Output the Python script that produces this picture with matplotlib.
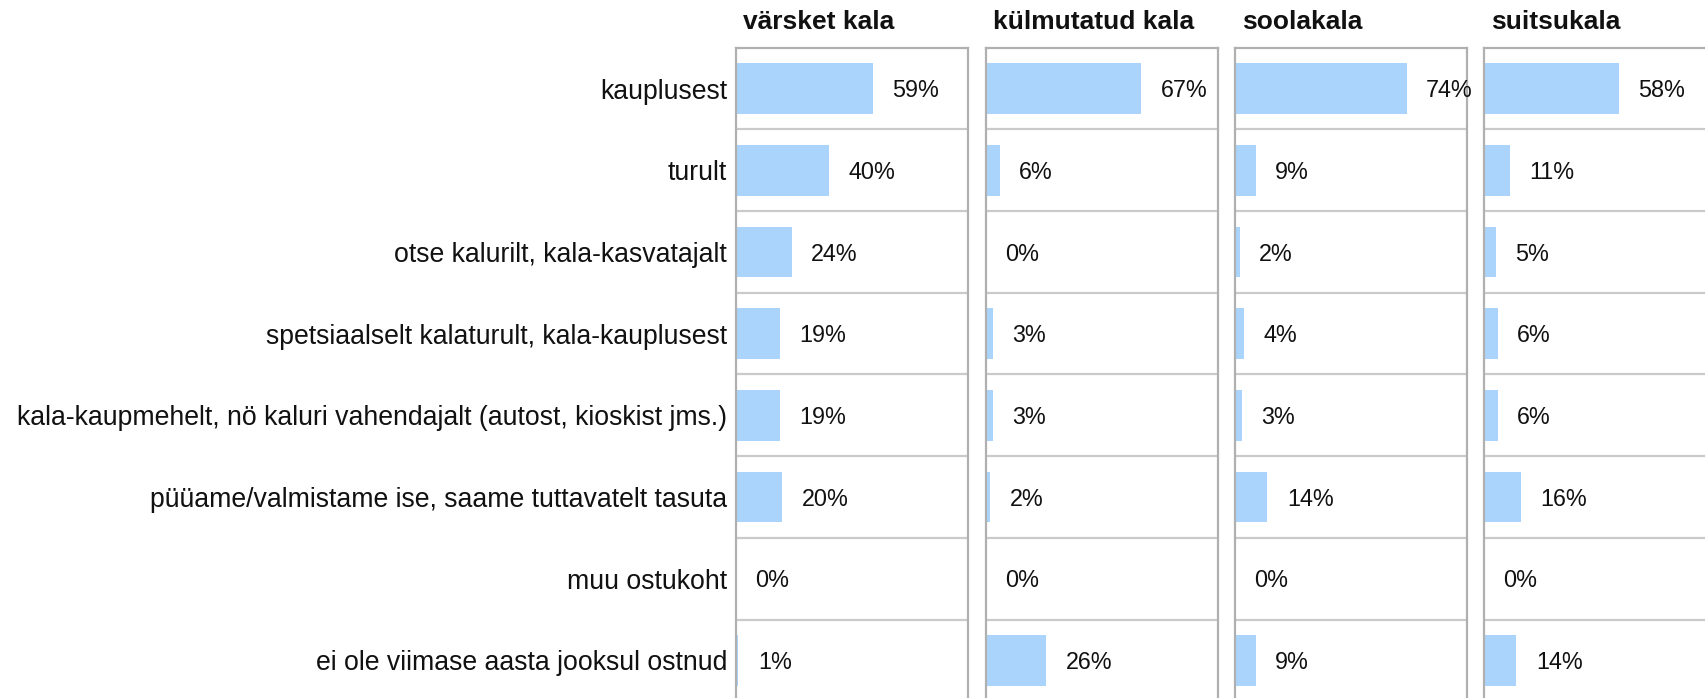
import matplotlib
matplotlib.use("Agg")
import matplotlib.pyplot as plt

categories = [
    "kauplusest",
    "turult",
    "otse kalurilt, kala-kasvatajalt",
    "spetsiaalselt kalaturult, kala-kauplusest",
    "kala-kaupmehelt, nö kaluri vahendajalt (autost, kioskist jms.)",
    "püüame/valmistame ise, saame tuttavatelt tasuta",
    "muu ostukoht",
    "ei ole viimase aasta jooksul ostnud",
]
panel_titles = ["värsket kala", "külmutatud kala", "soolakala", "suitsukala"]
varsket = [59, 40, 24, 19, 19, 20, 0, 1]
kylmutatud = [67, 6, 0, 3, 3, 2, 0, 26]
soolakala = [74, 9, 2, 4, 3, 14, 0, 9]
suitsukala = [58, 11, 5, 6, 6, 16, 0, 14]
series = [varsket, kylmutatud, soolakala, suitsukala]

plt.rcParams['font.family'] = ['Liberation Sans', 'DejaVu Sans']

W, H = 1706, 698
fig = plt.figure(figsize=(W / 100, H / 100), dpi=100)

bar_color = '#aad4fc'
spine_color = '#b0b0b0'
grid_color = '#cacaca'

panel_left = [736, 985.7, 1235, 1484]
panel_w = 232
top_px = 47.7
bottom_px = 701.2

n = len(categories)
for i, (title, vals) in enumerate(zip(panel_titles, series)):
    l = panel_left[i] / W
    b = (H - bottom_px) / H
    ax = fig.add_axes([l, b, panel_w / W, (bottom_px - top_px) / H])
    y = list(range(n))
    ax.barh(y, vals, height=0.62, color=bar_color, zorder=2)
    ax.set_xlim(0, 100)
    ax.set_ylim(n - 0.5, -0.5)
    for k in range(1, n):
        ax.axhline(k - 0.5, color=grid_color, lw=1.6, zorder=1)
    for yy, v in zip(y, vals):
        ax.annotate(f"{v}%", xy=(v, yy), xytext=(14, -1.6), textcoords='offset points',
                    va='center', ha='left', fontsize=16.8, color='#111111',
                    annotation_clip=False, zorder=3)
    ax.set_xticks([])
    if i == 0:
        ax.set_yticks(y)
        ax.set_yticklabels(categories, fontsize=19.2, color='#111111')
        ax.tick_params(axis='y', length=0, pad=6.5)
    else:
        ax.set_yticks([])
    for s in ['top', 'left', 'right']:
        ax.spines[s].set_color(spine_color)
        ax.spines[s].set_linewidth(1.6)
    ax.spines['bottom'].set_visible(False)
    ax.annotate(title, xy=(0, 1), xycoords='axes fraction', xytext=(5.4, 13.3),
                textcoords='offset points', ha='left', va='baseline',
                fontsize=19, fontweight='bold', color='#111111', annotation_clip=False)

fig.savefig("out.png", dpi=100)
